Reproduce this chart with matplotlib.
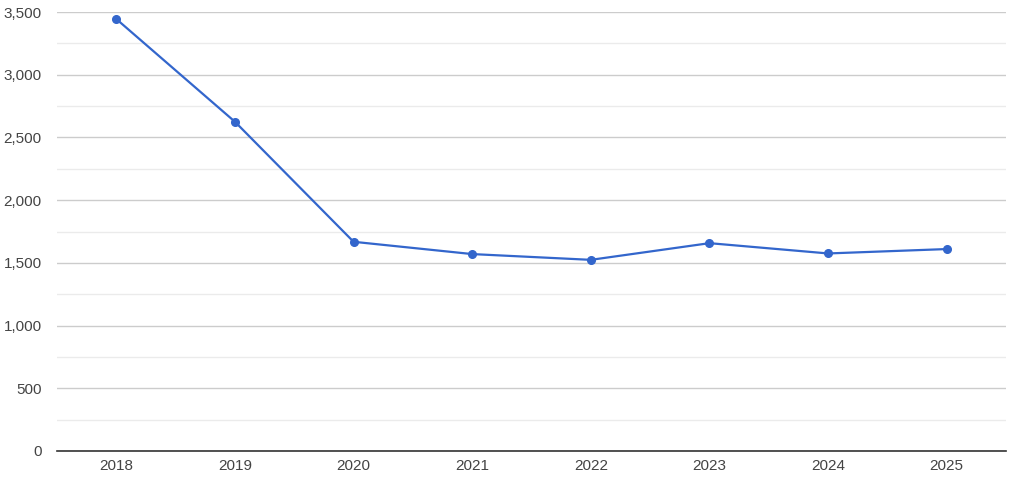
import matplotlib
matplotlib.use("Agg")
import matplotlib.pyplot as plt
from matplotlib.ticker import FuncFormatter, MultipleLocator

years = ["2018", "2019", "2020", "2021", "2022", "2023", "2024", "2025"]
values = [3444, 2625, 1668, 1570, 1524, 1657, 1575, 1610]

plt.rcParams['font.family'] = ['Liberation Sans', 'DejaVu Sans']

fig = plt.figure(figsize=(10.13, 4.78), dpi=100)
ax = fig.add_axes([57/1013, 27/478, (1006-57)/1013, (451-12)/478])

x = list(range(len(years)))
ax.plot(x, values, color="#3366cc", lw=1.6, marker="o", ms=5.5, zorder=3,
        solid_joinstyle="round")

ax.set_xlim(-0.5, len(years) - 0.5)
ax.set_ylim(0, 3500)
ax.yaxis.set_major_locator(MultipleLocator(500))
ax.yaxis.set_minor_locator(MultipleLocator(250))
ax.yaxis.set_major_formatter(FuncFormatter(lambda v, p: f"{int(v):,}"))
ax.set_xticks(x)
ax.set_xticklabels(years)

ax.grid(axis="y", which="major", color="#cccccc", lw=1)
ax.grid(axis="y", which="minor", color="#ebebeb", lw=1)
ax.set_axisbelow(True)

for s in ["top", "right", "left"]:
    ax.spines[s].set_visible(False)
ax.spines["bottom"].set_color("#333333")
ax.spines["bottom"].set_linewidth(1.2)

ax.tick_params(axis="both", which="both", length=0, labelsize=11, labelcolor="#444444")
ax.tick_params(axis="y", pad=11)
ax.tick_params(axis="x", pad=6)

fig.savefig("out.png", dpi=100, facecolor="white")
